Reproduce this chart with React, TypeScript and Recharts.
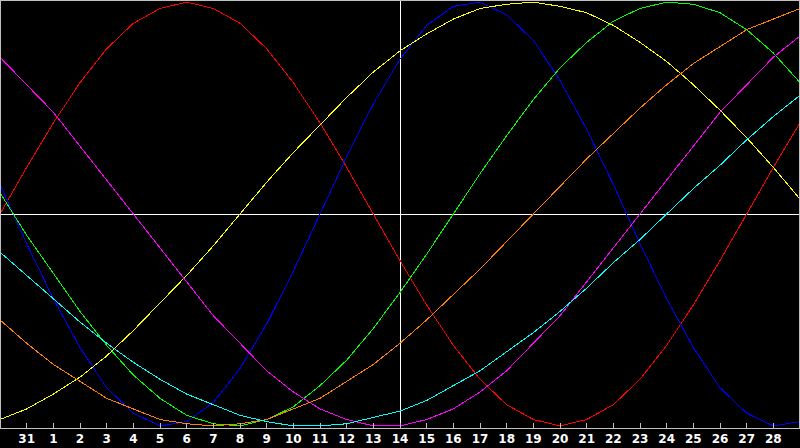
import React from "react";
import { LineChart, Line, XAxis, YAxis, ReferenceLine } from "recharts";

// day labels along the bottom, one per sample (first and last are off the edges)
const dayLabels = [
  "30", "31", "1", "2", "3", "4", "5", "6", "7", "8", "9", "10", "11", "12", "13",
  "14", "15", "16", "17", "18", "19", "20", "21", "22", "23", "24", "25", "26",
  "27", "28", "29",
];
const tickDays = [1, 2, 3, 4, 5, 6, 7, 8, 9, 10, 11, 12, 13, 14, 15, 16, 17, 18, 19, 20, 21, 22, 23, 24, 25, 26, 27, 28, 29];

// values, -1..1
const red = [0, 0.22, 0.43, 0.62, 0.78, 0.9, 0.97, 1, 0.97, 0.9, 0.78, 0.62, 0.43, 0.22, 0, -0.22, -0.43, -0.62, -0.78, -0.9, -0.97, -1, -0.97, -0.9, -0.78, -0.62, -0.43, -0.22, 0, 0.22, 0.43];
const blue = [0.14, -0.14, -0.4, -0.63, -0.82, -0.94, -1, -0.98, -0.89, -0.73, -0.52, -0.27, 0, 0.27, 0.52, 0.73, 0.89, 0.98, 1, 0.94, 0.82, 0.63, 0.4, 0.14, -0.14, -0.4, -0.63, -0.82, -0.94, -1, -0.98];
const green = [0.1, -0.1, -0.28, -0.46, -0.62, -0.76, -0.87, -0.95, -0.99, -1, -0.97, -0.91, -0.81, -0.69, -0.54, -0.37, -0.19, 0, 0.19, 0.37, 0.54, 0.69, 0.81, 0.91, 0.97, 1, 0.99, 0.95, 0.87, 0.76, 0.62];
const yellow = [-0.97, -0.92, -0.85, -0.77, -0.67, -0.55, -0.42, -0.29, -0.15, 0, 0.15, 0.29, 0.42, 0.55, 0.67, 0.77, 0.85, 0.92, 0.97, 0.99, 1, 0.98, 0.95, 0.89, 0.81, 0.72, 0.61, 0.49, 0.36, 0.22, 0.07];
const magenta = [0.74, 0.61, 0.48, 0.32, 0.16, 0, -0.16, -0.32, -0.48, -0.61, -0.74, -0.84, -0.92, -0.97, -1, -1, -0.97, -0.92, -0.84, -0.74, -0.61, -0.48, -0.32, -0.16, 0, 0.16, 0.32, 0.48, 0.61, 0.74, 0.84];
const orange = [-0.5, -0.61, -0.71, -0.79, -0.87, -0.92, -0.97, -0.99, -1, -0.99, -0.97, -0.92, -0.87, -0.79, -0.71, -0.61, -0.5, -0.38, -0.26, -0.13, 0, 0.13, 0.26, 0.38, 0.5, 0.61, 0.71, 0.79, 0.87, 0.92, 0.97];
const cyan = [-0.18, -0.29, -0.4, -0.51, -0.61, -0.7, -0.78, -0.85, -0.9, -0.95, -0.98, -1, -1, -0.99, -0.96, -0.93, -0.88, -0.81, -0.74, -0.65, -0.56, -0.46, -0.35, -0.23, -0.12, 0, 0.12, 0.23, 0.35, 0.46, 0.56];

const data = dayLabels.map((label, i) => ({
  i,
  label,
  red: red[i],
  blue: blue[i],
  green: green[i],
  yellow: yellow[i],
  magenta: magenta[i],
  orange: orange[i],
  cyan: cyan[i],
}));

const series = [
  { key: "red", color: "#ff0000" },
  { key: "blue", color: "#0000ff" },
  { key: "green", color: "#00ff00" },
  { key: "yellow", color: "#ffff00" },
  { key: "magenta", color: "#ff00ff" },
  { key: "orange", color: "#ff8000" },
  { key: "cyan", color: "#00ffff" },
];

const DayTick = (props: any) => {
  const { x, y, payload } = props;
  return (
    <g>
      <line x1={x} x2={x} y1={y - 5} y2={y} stroke="#c0c0c0" strokeWidth={1} shapeRendering="crispEdges" />
      <text
        x={x}
        y={y + 15}
        textAnchor="middle"
        fill="#ffffff"
        fontSize={12}
        fontWeight="bold"
        fontFamily="DejaVu Sans"
      >
        {dayLabels[payload.value]}
      </text>
    </g>
  );
};

export default function App() {
  return (
    <div style={{ position: "fixed", left: 0, top: 0, width: 800, height: 448, background: "#000" }}>
      <LineChart width={800} height={448} data={data} margin={{ top: 0, right: 0, left: 0, bottom: 0 }}>
        <XAxis
          dataKey="i"
          type="number"
          domain={[0, 30]}
          ticks={tickDays}
          interval={0}
          tickSize={0}
          tickMargin={0}
          tickLine={false}
          height={20}
          axisLine={{ stroke: "#c0c0c0", shapeRendering: "crispEdges" }}
          tick={<DayTick />}
        />
        <YAxis hide domain={[-1.01, 1.01]} />
        <ReferenceLine x={15} stroke="#ffffff" strokeWidth={1} shapeRendering="crispEdges" />
        <ReferenceLine y={0} stroke="#ffffff" strokeWidth={1} shapeRendering="crispEdges" />
        {series.map((s) => (
          <Line
            key={s.key}
            type="linear"
            dataKey={s.key}
            stroke={s.color}
            strokeWidth={1}
            dot={false}
            activeDot={false}
            shapeRendering="crispEdges"
            isAnimationActive={false}
          />
        ))}
      </LineChart>
      {/* thin frame on top, left and right */}
      <div
        style={{
          position: "absolute",
          left: 0,
          top: 0,
          width: 800,
          height: 429,
          boxSizing: "border-box",
          borderTop: "1px solid #c0c0c0",
          borderLeft: "1px solid #c0c0c0",
          borderRight: "1px solid #c0c0c0",
          pointerEvents: "none",
        }}
      />
    </div>
  );
}
